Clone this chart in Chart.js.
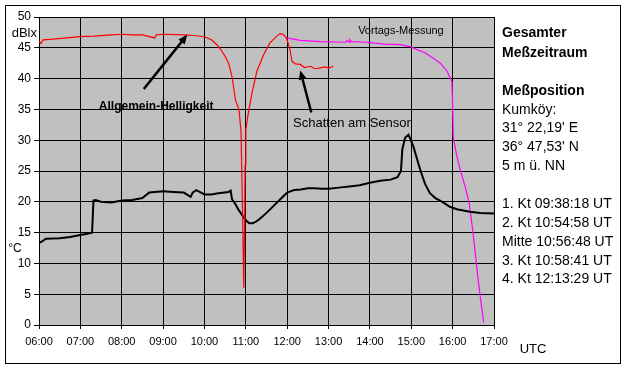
<!DOCTYPE html>
<html>
<head>
<meta charset="utf-8">
<script src="https://cdn.jsdelivr.net/npm/chart.js@4.4.1/dist/chart.umd.min.js"></script>
</head>
<body style="margin:0">
<canvas id="c" width="627" height="371"></canvas>
<script>
// ---------- DATA ----------
const xTickLabels = ["06:00","07:00","08:00","09:00","10:00","11:00","12:00","13:00","14:00","15:00","16:00","17:00"];

// Temperature (°C), black
const tempTimes = ["06:00","06:05","06:10","06:30","06:45","07:00","07:10","07:17","07:19","07:22","07:30","07:45","08:00","08:15","08:30","08:40","09:00","09:15","09:30","09:40","09:43","09:48","09:55","10:00","10:10","10:20","10:35","10:38","10:40","10:45","10:50","10:55","11:00","11:05","11:10","11:15","11:20","11:30","11:40","11:50","12:00","12:10","12:20","12:30","12:40","12:50","13:00","13:15","13:30","13:45","14:00","14:15","14:30","14:40","14:45","14:47","14:51","14:56","15:03","15:13","15:20","15:27","15:35","15:45","15:56","16:06","16:25","16:40","17:00"];
const tempValues = [13.3,13.6,14.0,14.1,14.3,14.6,14.8,15.0,20.2,20.3,20.0,19.9,20.2,20.3,20.6,21.5,21.7,21.6,21.5,20.8,21.5,21.9,21.5,21.2,21.2,21.4,21.6,21.8,20.4,19.6,18.6,17.8,17.0,16.5,16.5,16.8,17.2,18.2,19.3,20.4,21.5,21.9,22.0,22.2,22.2,22.1,22.1,22.3,22.5,22.7,23.1,23.4,23.6,24.0,25.0,28.5,30.4,30.9,29.0,25.2,22.9,21.4,20.6,20.0,19.2,18.8,18.4,18.2,18.1];

// Brightness (dBlx), red
const brightTimes = ["06:00","06:03","06:06","06:20","06:40","07:00","07:20","07:45","08:00","08:15","08:30","08:48","08:50","09:00","09:30","09:45","10:00","10:10","10:18","10:23","10:30","10:35","10:40","10:45","10:50","10:53","10:55","10:57","10:58","10:59","11:00","11:03","11:09","11:16","11:26","11:35","11:45","11:50","11:54","11:59","12:02","12:04","12:07","12:12","12:19","12:25","12:34","12:40","12:46","12:55","13:00","13:07"];
const brightValues = [46.1,45.7,46.3,46.4,46.6,46.8,46.9,47.1,47.2,47.1,47.1,46.6,47.1,47.2,47.1,47.0,46.8,46.3,45.5,44.8,43.6,42.5,40.3,36.5,35.0,31.5,20.0,6.0,14.0,26.0,31.7,34.0,37.7,41.2,43.9,45.8,46.9,47.3,47.2,46.6,45.5,44.7,42.8,42.4,42.3,41.8,42.0,41.6,41.7,41.9,41.7,42.0];

// Previous-day measurement (dBlx), magenta
const prevTimes = ["11:57","12:05","12:19","12:48","13:25","13:27","13:30","13:31","13:33","13:55","14:20","14:44","14:58","15:08","15:20","15:32","15:42","15:52","15:59","16:00","16:01","16:06","16:11","16:18","16:24","16:29","16:33","16:37","16:41","16:45"];
const prevValues = [46.7,46.5,46.2,46.0,45.9,46.2,45.9,46.3,46.0,45.9,45.6,45.5,45.2,44.7,44.2,43.3,42.5,41.2,39.5,35.5,30.4,27.5,25.2,22.5,19.8,15.5,11.5,7.4,3.8,0.4];

const sideTextBold = ["Gesamter","Meßzeitraum","Meßposition"];
const sideTextPlain = ["Kumköy:","31° 22,19' E","36° 47,53' N","5 m ü. NN","1. Kt 09:38:18 UT","2. Kt 10:54:58 UT","Mitte 10:56:48 UT","3. Kt 10:58:41 UT","4. Kt 12:13:29 UT"];

// ---------- helpers ----------
function toHours(s) { const p = s.split(":"); return +p[0] + (+p[1]) / 60; }
function toXY(times, values) { return times.map((t, i) => ({ x: toHours(t), y: values[i] })); }

const FONT = "'Liberation Sans', Arial, sans-serif";

const annotations = [
  { text: "Allgemein-Helligkeit", bold: true, size: 12, at: ["08:50", 35.5], arrowFrom: ["08:32", 38.3], arrowTo: ["09:35", 47.1] },
  { text: "Schatten am Sensor", bold: false, size: 13, at: ["13:34", 32.7], arrowFrom: ["12:35", 34.5], arrowTo: ["12:19", 41.3] },
  { text: "Vortags-Messung", bold: false, size: 11, at: ["14:45", 47.7] }
];

function arrow(c, x1, y1, x2, y2) {
  const ang = Math.atan2(y2 - y1, x2 - x1);
  const hl = 9, hw = 4;
  const bx = x2 - hl * Math.cos(ang), by = y2 - hl * Math.sin(ang);
  c.beginPath();
  c.moveTo(x1, y1);
  c.lineTo(bx, by);
  c.lineWidth = 2.5;
  c.strokeStyle = '#000';
  c.stroke();
  c.beginPath();
  c.moveTo(x2, y2);
  c.lineTo(bx + hw * Math.sin(ang), by - hw * Math.cos(ang));
  c.lineTo(bx - hw * Math.sin(ang), by + hw * Math.cos(ang));
  c.closePath();
  c.fillStyle = '#000';
  c.fill();
}

const bgPlugin = {
  id: 'bg',
  beforeDraw(chart) {
    const c = chart.ctx, a = chart.chartArea;
    c.save();
    c.fillStyle = '#ffffff';
    c.fillRect(0, 0, chart.width, chart.height);
    c.fillStyle = '#c0c0c0';
    c.fillRect(a.left, a.top, a.right - a.left, a.bottom - a.top);
    c.restore();
  }
};

const annotPlugin = {
  id: 'annot',
  afterDraw(chart) {
    const c = chart.ctx, xs = chart.scales.x, ys = chart.scales.y;
    c.save();
    annotations.forEach(an => {
      if (an.arrowFrom) {
        arrow(c, xs.getPixelForValue(toHours(an.arrowFrom[0])), ys.getPixelForValue(an.arrowFrom[1]),
                 xs.getPixelForValue(toHours(an.arrowTo[0])), ys.getPixelForValue(an.arrowTo[1]));
      }
    });
    annotations.forEach(an => {
      c.font = (an.bold ? 'bold ' : '') + an.size + 'px ' + FONT;
      c.fillStyle = '#000';
      c.textAlign = 'center';
      c.textBaseline = 'middle';
      c.fillText(an.text, xs.getPixelForValue(toHours(an.at[0])), ys.getPixelForValue(an.at[1]));
    });
    c.fillStyle = '#000';
    c.textBaseline = 'middle';
    c.font = '13px ' + FONT;
    c.textAlign = 'right';
    c.fillText('dBlx', 37, 33);
    c.font = '12px ' + FONT;
    c.textAlign = 'center';
    c.fillText('°C', 15, 249);
    c.font = '13px ' + FONT;
    c.fillText('UTC', 533, 349);
    c.textAlign = 'left';
    const X = 502;
    c.font = 'bold 14px ' + FONT;
    c.fillText(sideTextBold[0], X, 33);
    c.fillText(sideTextBold[1], X, 53);
    c.fillText(sideTextBold[2], X, 91);
    c.font = '14px ' + FONT;
    const ly1 = [110, 128.5, 147, 166];
    for (let i = 0; i < 4; i++) c.fillText(sideTextPlain[i], X, ly1[i]);
    const ly2 = [204.5, 223, 242, 261, 279.5];
    for (let i = 0; i < 5; i++) c.fillText(sideTextPlain[4 + i], X, ly2[i]);
    c.strokeStyle = '#000';
    c.lineWidth = 1;
    c.strokeRect(5.5, 5.5, 615, 358);
    c.restore();
  }
};

new Chart(document.getElementById('c'), {
  type: 'line',
  data: {
    datasets: [
      { data: toXY(brightTimes, brightValues), borderColor: '#ff0000', borderWidth: 1.2, pointRadius: 0, tension: 0 },
      { data: toXY(tempTimes, tempValues), borderColor: '#000000', borderWidth: 2, pointRadius: 0, tension: 0 },
      { data: toXY(prevTimes, prevValues), borderColor: '#ff00ff', borderWidth: 1.2, pointRadius: 0, tension: 0 }
    ]
  },
  options: {
    responsive: false, animation: false, devicePixelRatio: 1,
    layout: { padding: { top: 17, right: 133, left: 0, bottom: 0 } },
    plugins: { legend: { display: false }, tooltip: { enabled: false } },
    scales: {
      x: {
        type: 'linear', min: 6, max: 17,
        ticks: { stepSize: 1, autoSkip: false, maxRotation: 0, color: '#000', padding: 6, font: { family: FONT, size: 11 },
                 callback: (v) => xTickLabels[Math.round(v) - 6] },
        grid: { color: '#000', tickLength: 4 },
        border: { color: '#000' },
        afterFit: (s) => { s.height = 46; }
      },
      y: {
        min: 0, max: 50,
        ticks: { stepSize: 5, color: '#000', padding: 3, font: { family: FONT, size: 12 } },
        grid: { color: '#000', tickLength: 5 },
        border: { color: '#000' },
        afterFit: (s) => { s.width = 39; }
      }
    }
  },
  plugins: [bgPlugin, annotPlugin]
});
</script>
</body>
</html>
